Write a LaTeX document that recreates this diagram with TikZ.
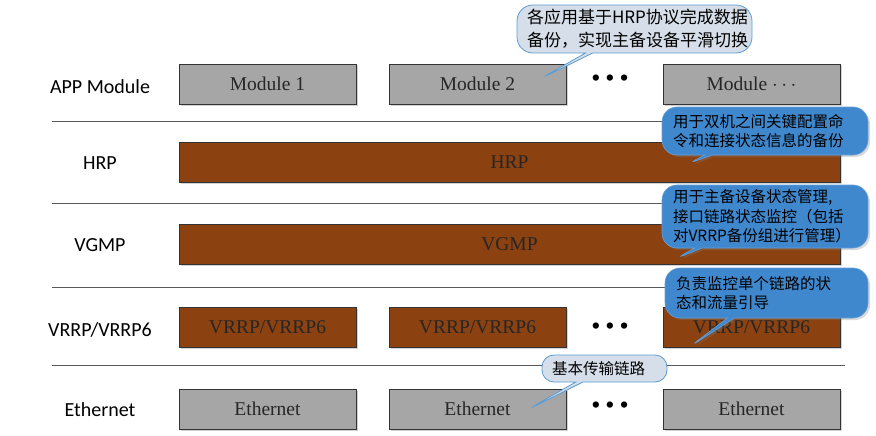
\documentclass[tikz,border=0pt]{standalone}
\usepackage{fontspec}
\setsansfont{Carlito}
\newfontfamily\cjk{Noto Sans CJK SC}
\newfontfamily\boxfont{Liberation Serif}
\usetikzlibrary{shapes.callouts,shadows}
\definecolor{boxgray}{RGB}{166,166,166}
\definecolor{boxbrown}{RGB}{139,65,16}
\definecolor{tipblue}{RGB}{64,136,206}
\definecolor{tiplight}{RGB}{214,223,233}
\definecolor{tipedge}{RGB}{91,155,213}

\begin{document}
\begin{tikzpicture}[x=1pt,y=-1pt,
  layer/.style={font=\sffamily\fontsize{20}{24}\selectfont},
  unit/.style={draw=black!80,line width=0.8pt,minimum height=40pt,inner sep=0pt,
    font=\boxfont\fontsize{19.5}{22}\selectfont,text=black!85,
    drop shadow={shadow xshift=1.5pt,shadow yshift=-1.5pt,opacity=0.35}},
  grayunit/.style={unit,fill=boxgray,minimum width=177pt},
  brownunit/.style={unit,fill=boxbrown,minimum width=177pt},
  wideunit/.style={unit,fill=boxbrown,minimum width=661pt},
  sep/.style={draw=black!65,line width=0.6pt},
  dots/.style={font=\fontsize{28}{28}\selectfont,inner sep=0pt},
  note/.style={rectangle callout,rounded corners=12pt,align=left,inner ysep=0pt,
    font=\cjk\fontsize{15.5}{19.5}\selectfont},
  lightnote/.style={note,fill=tiplight,draw=tipedge,line width=0.8pt},
  bluenote/.style={note,rounded corners=15pt,fill=tipblue,draw=tipblue!80!white,line width=0.6pt,
    drop shadow={shadow xshift=2pt,shadow yshift=-2pt,opacity=0.3}}]
\useasboundingbox (0,0) rectangle (876,436);

% layer names
\node[layer] (lapp) at (100,87) {APP Module};
\node[layer] (lhrp) at (100,163) {HRP};
\node[layer] (lvgmp) at (100,245) {VGMP};
\node[layer] (lvrrp) at (100,330) {VRRP/VRRP6};
\node[layer] (leth) at (100,410) {Ethernet};

% separators
\draw[sep] (52,121) -- (845,121);
\draw[sep] (52,203) -- (845,203);
\draw[sep] (52,287) -- (845,287);
\draw[sep] (52,365) -- (845,365);

% APP modules
\node[grayunit] (app1) at (267.5,84) {Module 1};
\node[grayunit] (app2) at (477.5,84) {Module 2};
\node[dots] (appdots) at (610,80) {\textbullet\kern-6pt\textbullet\kern-6pt\textbullet};
\node[grayunit] (app3) at (751.5,84) {Module $\cdots$};

% HRP and VGMP
\node[wideunit] (hrp) at (509.5,162.5) {HRP};
\node[wideunit] (vgmp) at (509.5,244.5) {VGMP};

% VRRP
\node[brownunit] (vrrp1) at (267.5,327) {VRRP/VRRP6};
\node[brownunit] (vrrp2) at (477.5,327) {VRRP/VRRP6};
\node[dots] (vrrpdots) at (610,328) {\textbullet\kern-6pt\textbullet\kern-6pt\textbullet};
\node[brownunit] (vrrp3) at (751.5,327) {VRRP/VRRP6};

% Ethernet
\node[grayunit] (eth1) at (267.5,409) {Ethernet};
\node[grayunit] (eth2) at (477.5,409) {Ethernet};
\node[dots] (ethdots) at (610,407) {\textbullet\kern-6pt\textbullet\kern-6pt\textbullet};
\node[grayunit] (eth3) at (751.5,409) {Ethernet};

% callouts
\coordinate (tipapp) at (538,80);
\coordinate (tiphrp) at (685,165);
\coordinate (tipvgmp) at (673,260);
\coordinate (tipvrrp) at (688,348);
\coordinate (tipeth) at (527,410);

\node[lightnote,rounded corners=16pt,font=\cjk\fontsize{17}{23}\selectfont,text width=215pt,inner xsep=10pt,
  minimum height=48pt,callout absolute pointer={(tipapp)}] (noteapp) at (634.5,29)
  {各应用基于HRP协议完成数据\\备份，实现主备设备平滑切换};
\node[bluenote,text width=184pt,inner xsep=11pt,minimum height=48pt,
  callout absolute pointer={(tiphrp)}] (notehrp) at (765,131)
  {用于双机之间关键配置命\\令和连接状态信息的备份};
\node[bluenote,text width=184pt,inner xsep=11pt,minimum height=63pt,
  callout absolute pointer={(tipvgmp)}] (notevgmp) at (765,216.5)
  {用于主备设备状态管理,\\接口链路状态监控（包括\\对VRRP备份组进行管理）};
\node[bluenote,text width=181pt,inner xsep=11pt,minimum height=50pt,
  callout absolute pointer={(tipvrrp)}] (notevrrp) at (766.5,293)
  {负责监控单个链路的状\\态和流量引导};
\node[lightnote,text width=105pt,inner xsep=10pt,minimum height=27pt,
  callout absolute pointer={(tipeth)}] (noteeth) at (604.5,368.5)
  {基本传输链路};
\end{tikzpicture}
\end{document}
